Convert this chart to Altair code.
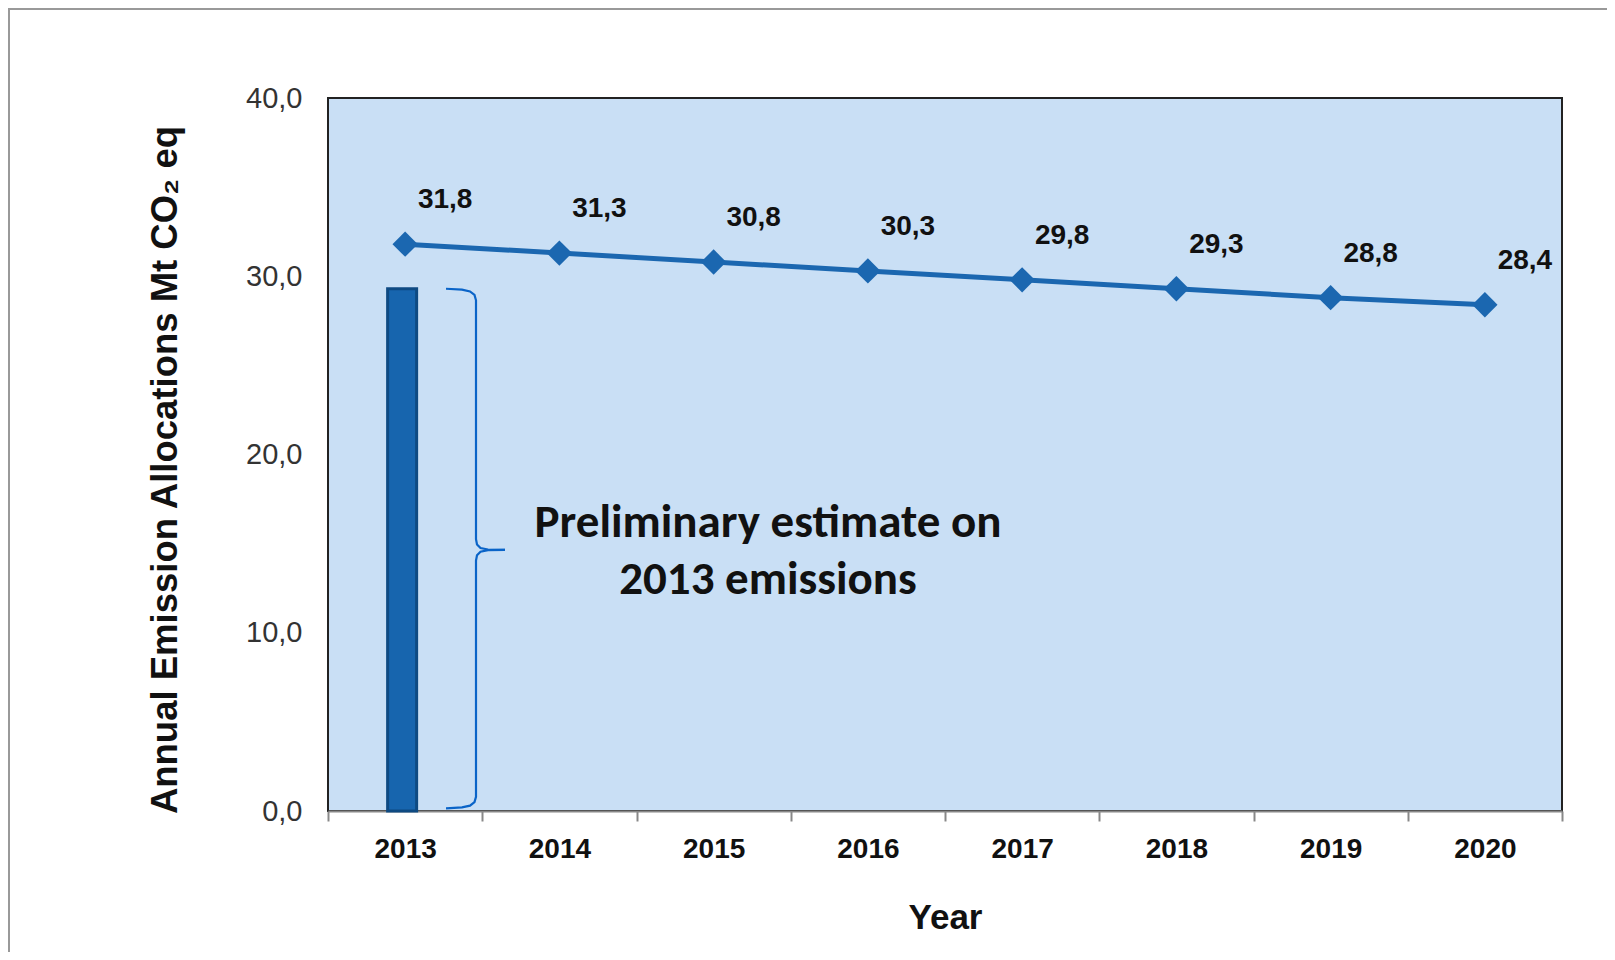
import altair as alt
import pandas as pd

# ---- data ----
years = ["2013", "2014", "2015", "2016", "2017", "2018", "2019", "2020"]
allocations = [31.8, 31.3, 30.8, 30.3, 29.8, 29.3, 28.8, 28.4]
bar_years = ["2013"]
bar_values = [29.3]
y_ticks = [0, 10, 20, 30, 40]
annotation_lines = ["Preliminary estimate on", "2013 emissions"]
x_title = "Year"
y_title = "Annual Emission Allocations Mt CO\u2082 eq"

line_df = pd.DataFrame({"year": years, "value": allocations})
line_df["label"] = [f"{v:.1f}".replace(".", ",") for v in allocations]
bar_df = pd.DataFrame({"year": bar_years, "value": bar_values})

W, H = 1234, 713
PAD = {"left": 320, "top": 90, "right": 45, "bottom": 141}

LINE_BLUE = "#1B67B0"
BAR_BLUE = "#1765AE"
BAR_EDGE = "#0E4A82"
BRACE = "#0A64C8"
FONT = "Liberation Sans, Arial, sans-serif"

x_scale = alt.Scale(domain=years, paddingInner=0, paddingOuter=0)
y_scale = alt.Scale(domain=[0, 40], nice=False)

x_axis = alt.Axis(
    title=x_title, titleFont=FONT, titleFontSize=35, titleFontWeight="bold",
    titleColor="#111", titleX=W / 2, titleY=106, titleBaseline="middle",
    labelFont=FONT, labelFontSize=28, labelFontWeight="bold", labelColor="#111",
    labelAngle=0, labelPadding=14, tickBand="extent", ticks=True, tickSize=10,
    tickColor="#888", tickWidth=2, domainColor="#888", domainWidth=2, grid=False,
)
y_axis = alt.Axis(
    title=y_title, titleFont=FONT, titleFontSize=36.5, titleFontWeight="bold",
    titleColor="#111", titleAngle=270, titleX=-163, titleY=H / 2 + 15,
    titleAlign="center", titleBaseline="middle",
    values=y_ticks, labelExpr="replace(format(datum.value, '.1f'), '.', ',')",
    labelFont=FONT, labelFontSize=29, labelColor="#333", labelPadding=26,
    ticks=False, domain=False, grid=False,
)

base_x = alt.X("year:N", scale=x_scale, axis=x_axis)
base_y = alt.Y("value:Q", scale=y_scale, axis=y_axis)
sx = alt.X("year:N", scale=x_scale)
sy = alt.Y("value:Q", scale=y_scale)

bar = alt.Chart(bar_df).mark_bar(
    size=29, color=BAR_BLUE, stroke=BAR_EDGE, strokeWidth=3, xOffset=-3
).encode(x=base_x, y=base_y)

line = alt.Chart(line_df).mark_line(color=LINE_BLUE, strokeWidth=5).encode(x=sx, y=sy)
points = alt.Chart(line_df).mark_point(
    shape="diamond", filled=True, size=640, color=LINE_BLUE, opacity=1
).encode(x=sx, y=sy)
labels = alt.Chart(line_df).mark_text(
    dx=40, dy=-44, font=FONT, fontSize=28, fontWeight="bold", color="#111",
    baseline="middle", align="center"
).encode(x=sx, y=sy, text="label:N")

annotation = alt.Chart(bar_df).mark_text(
    text=annotation_lines, font="Carlito, Calibri, Lato, sans-serif", fontSize=47,
    fontWeight="bold", color="#111", align="center", baseline="middle",
    lineHeight=57,
).encode(x=alt.value(440), y=alt.value(425))

# outer slide frame (top and left edges)
frame_top = alt.Chart(bar_df).mark_rule(color="#999", strokeWidth=2).encode(
    x=alt.value(-PAD["left"]), x2=alt.value(W + PAD["right"]), y=alt.value(-PAD["top"] + 1)
)
frame_left = alt.Chart(bar_df).mark_rule(color="#999", strokeWidth=2).encode(
    x=alt.value(-PAD["left"] + 1), y=alt.value(-PAD["top"]), y2=alt.value(H + PAD["bottom"])
)

main = alt.layer(bar, line, points, labels, annotation, frame_top, frame_left)

# curly brace beside the 2013 bar: its vertical extent follows the bar value,
# its horizontal shape is a fixed pixel offset profile (decoration)
v = bar_values[0]
mid = v / 2.0
low = 0.15
shape_x = [118, 134, 142, 146.5, 148, 148, 149, 152.5, 160, 177]
shape_dy = [0.0, 0.05, 0.15, 0.35, 0.65, 0.6, 0.3, 0.1, 0.02, 0.0]
rows = []
for i, (px, d) in enumerate(zip(shape_x, shape_dy)):
    if i < 5:
        rows.append({"part": "top", "i": i, "px": px, "y": v - d})
        rows.append({"part": "bot", "i": i, "px": px, "y": low + d})
    else:
        rows.append({"part": "top", "i": i, "px": px, "y": mid + d})
        rows.append({"part": "bot", "i": i, "px": px, "y": mid - d})
brace_df = pd.DataFrame(rows)

brace = alt.Chart(brace_df).mark_line(color=BRACE, strokeWidth=2.2, interpolate="linear").encode(
    x=alt.X("px:Q", scale=alt.Scale(domain=[0, W], range=[0, W], nice=False, zero=False), axis=None),
    y=alt.Y("y:Q", scale=y_scale),
    detail="part:N",
    order="i:Q",
)

chart = alt.layer(main, brace).resolve_scale(x="independent").properties(
    width=W, height=H, autosize=alt.AutoSizeParams(type="none"), padding=PAD,
    background="white",
).configure_view(fill="#C9DFF5", stroke="#222", strokeWidth=2)

chart.save("out.html", embed_options={"renderer": "svg", "actions": False})
